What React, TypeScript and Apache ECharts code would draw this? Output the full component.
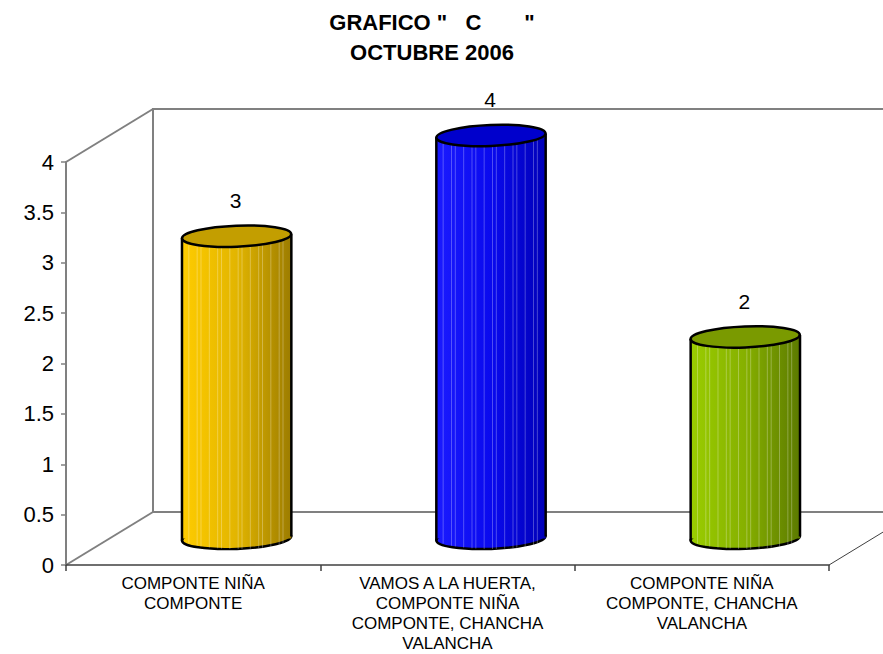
import { useEffect, useRef } from "react";
import * as echarts from "echarts";

const titleLines = ['GRAFICO "   C       "', "OCTUBRE 2006"];
const categories = [
  "COMPONTE NIÑA\nCOMPONTE",
  "VAMOS A LA HUERTA,\nCOMPONTE NIÑA\nCOMPONTE, CHANCHA\nVALANCHA",
  "COMPONTE NIÑA\nCOMPONTE, CHANCHA\nVALANCHA",
];
const values = [3, 4, 2];
const yMin = 0;
const yMax = 4;
const yInterval = 0.5;

const bodyLeft = ["#FFCC00", "#1A1AFF", "#9ACD00"];
const bodyMid = ["#E2B500", "#0A0AEE", "#86B000"];
const bodyRight = ["#9C7C00", "#0000B8", "#5C7A00"];
const topColors = ["#C39E00", "#0000CC", "#7A9A00"];

const FONT = "'Liberation Sans', Arial, sans-serif";
const GRID_LEFT = 66;
const GRID_TOP = 162;
const GRID_W = 763;
const GRID_H = 403;
const DEPTH_X = 87;
const DEPTH_Y = -53;
const RIGHT_EDGE = 883;

export default function App() {
  const ref = useRef<HTMLDivElement>(null);
  useEffect(() => {
    if (!ref.current) return;
    const chart = echarts.init(ref.current, undefined, { renderer: "svg" });
    const bx = GRID_LEFT + DEPTH_X;
    const gb = GRID_TOP + GRID_H;
    const wallStyle = { stroke: "#808080", lineWidth: 2, fill: "none" };
    const option: any = {
      animation: false,
      backgroundColor: "#ffffff",
      title: {
        text: titleLines.join("\n"),
        left: 432,
        top: 7,
        padding: 0,
        textAlign: "center",
        textStyle: {
          fontFamily: FONT,
          fontWeight: "bold",
          fontSize: 22,
          lineHeight: 30,
          color: "#000",
        },
      },
      graphic: {
        elements: [
          {
            type: "polyline",
            z: 0,
            shape: { points: [[bx, gb + DEPTH_Y], [bx, GRID_TOP + DEPTH_Y], [RIGHT_EDGE, GRID_TOP + DEPTH_Y]] },
            style: wallStyle,
          },
          {
            type: "line",
            z: 0,
            shape: { x1: bx, y1: gb + DEPTH_Y, x2: RIGHT_EDGE, y2: gb + DEPTH_Y },
            style: wallStyle,
          },
          {
            type: "line",
            z: 0,
            shape: { x1: GRID_LEFT, y1: GRID_TOP, x2: bx, y2: GRID_TOP + DEPTH_Y },
            style: wallStyle,
          },
          {
            type: "line",
            z: 0,
            shape: { x1: GRID_LEFT, y1: gb, x2: bx, y2: gb + DEPTH_Y },
            style: wallStyle,
          },
          {
            type: "line",
            z: 0,
            shape: {
              x1: GRID_LEFT + GRID_W,
              y1: gb,
              x2: RIGHT_EDGE,
              y2: gb + (DEPTH_Y * (RIGHT_EDGE - GRID_LEFT - GRID_W)) / DEPTH_X,
            },
            style: { stroke: "#404040", lineWidth: 1 },
          },
        ],
      },
      grid: { left: GRID_LEFT, top: GRID_TOP, width: GRID_W, height: GRID_H },
      xAxis: {
        type: "category",
        data: categories,
        boundaryGap: true,
        axisLine: { show: true, lineStyle: { color: "#404040", width: 1.5 } },
        axisTick: { show: true, length: 6, lineStyle: { color: "#404040", width: 1.5 } },
        axisLabel: {
          interval: 0,
          margin: 8,
          fontFamily: FONT,
          fontSize: 17,
          lineHeight: 20,
          color: "#000",
          align: "center",
        },
        splitLine: { show: false },
      },
      yAxis: {
        type: "value",
        min: yMin,
        max: yMax,
        interval: yInterval,
        axisLine: { show: true, lineStyle: { color: "#808080", width: 2 } },
        axisTick: { show: true, length: 5, lineStyle: { color: "#808080", width: 1.5 } },
        axisLabel: { margin: 12, fontFamily: FONT, fontSize: 22, color: "#000" },
        splitLine: { show: false },
      },
      series: [
        {
          type: "custom",
          clip: false,
          z: 5,
          data: values.map((v, i) => [i, v]),
          encode: { x: 0, y: 1 },
          renderItem: (params: any, api: any) => {
            const idx = api.value(0);
            const val = api.value(1);
            const topPt = api.coord([idx, val]);
            const basePt = api.coord([idx, 0]);
            const cx = topPt[0] + DEPTH_X / 2;
            const topY = topPt[1] + DEPTH_Y / 2;
            const baseY = basePt[1] + DEPTH_Y / 2;
            const w = api.size([1, 0])[0] * 0.43;
            const rx = w / 2;
            const ry = 10.5;
            const i = params.dataIndex;
            const grad = new echarts.graphic.LinearGradient(0, 0, 1, 0, [
              { offset: 0, color: bodyLeft[i] },
              { offset: 0.5, color: bodyMid[i] },
              { offset: 1, color: bodyRight[i] },
            ]);
            const children: any[] = [];
            children.push({
              type: "ellipse",
              shape: { cx, cy: baseY, rx, ry },
              rotation: 0.04,
              originX: cx,
              originY: baseY,
              style: { fill: grad, stroke: "#000", lineWidth: 2.5 },
            });
            children.push({
              type: "rect",
              shape: { x: cx - rx, y: topY, width: w, height: baseY - topY },
              style: { fill: grad },
            });
            const nStripes = 16;
            for (let k = 1; k < nStripes; k++) {
              const sx = cx - rx + (w * k) / nStripes + ((k % 3) - 1) * 1.5;
              children.push({
                type: "line",
                shape: { x1: sx, y1: topY, x2: sx, y2: baseY + ry * Math.sqrt(Math.max(0, 1 - ((sx - cx) / rx) ** 2)) },
                style: { stroke: "rgba(255,255,255,0.28)", lineWidth: 1 },
              });
            }
            children.push({
              type: "line",
              shape: { x1: cx - rx, y1: topY + 2, x2: cx - rx, y2: baseY + 2 },
              style: { stroke: "#000", lineWidth: 2.5 },
            });
            children.push({
              type: "line",
              shape: { x1: cx + rx, y1: topY - 2, x2: cx + rx, y2: baseY - 2 },
              style: { stroke: "#000", lineWidth: 2.5 },
            });
            children.push({
              type: "ellipse",
              shape: { cx, cy: topY, rx, ry },
              rotation: 0.04,
              originX: cx,
              originY: topY,
              style: { fill: topColors[i], stroke: "#000", lineWidth: 2.5 },
            });
            children.push({
              type: "text",
              style: {
                text: String(val),
                x: cx - 1,
                y: topY - 36,
                align: "center",
                verticalAlign: "middle",
                fontFamily: FONT,
                fontSize: 21,
                fill: "#000",
              },
            });
            return { type: "group", children };
          },
        },
      ],
    };
    chart.setOption(option);
    return () => chart.dispose();
  }, []);
  return (
    <div
      ref={ref}
      style={{ position: "absolute", left: 0, top: 0, width: 883, height: 654, background: "#fff" }}
    />
  );
}
